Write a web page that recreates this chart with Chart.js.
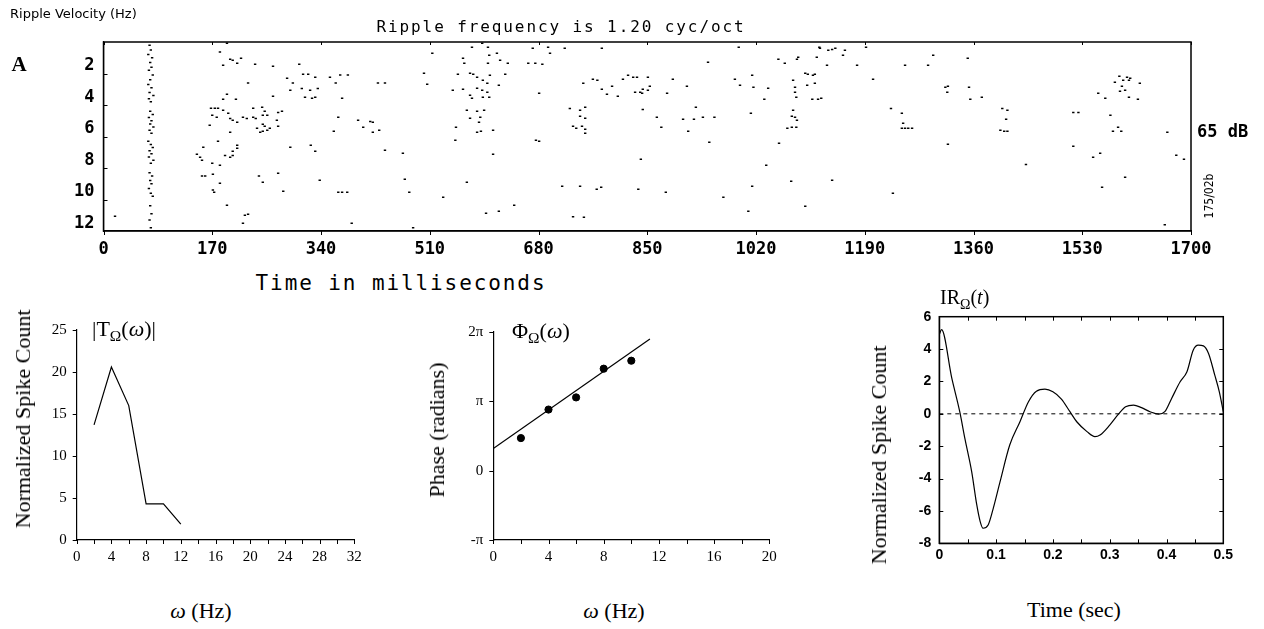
<!DOCTYPE html>
<html>
<head>
<meta charset="utf-8">
<script src="https://cdn.jsdelivr.net/npm/chart.js@4.4.1/dist/chart.umd.min.js"></script>
<style>
  body { margin: 0; background: #fff; }
  #page { position: relative; width: 1264px; height: 629px; overflow: hidden; background: #fff; }
  canvas { position: absolute; }
  .lbl { position: absolute; white-space: nowrap; color: #000; }
  .c { transform: translate(-50%, -50%); }
  .rot { transform: translate(-50%, -50%) rotate(-90deg); }
  .serif { font-family: "Liberation Serif", "DejaVu Serif", serif; }
  .mono { font-family: "DejaVu Sans Mono", "Liberation Mono", monospace; }
  sub { font-size: 0.7em; vertical-align: -0.35em; }
</style>
</head>
<body>
<div id="page">
  <canvas id="rasterChart" width="1264" height="270" style="left:0;top:0"></canvas>
  <canvas id="magChart" width="400" height="270" style="left:0;top:300px"></canvas>
  <canvas id="phaseChart" width="400" height="270" style="left:420px;top:300px"></canvas>
  <canvas id="irChart" width="424" height="300" style="left:840px;top:290px"></canvas>

  <div class="lbl" style="left:10px;top:6px;font:13px 'DejaVu Sans',sans-serif">Ripple Velocity (Hz)</div>
  <div class="lbl c mono" style="left:561px;top:26px;font-size:16px;letter-spacing:1.9px">Ripple frequency is 1.20 cyc/oct</div>
  <div class="lbl c serif" style="left:19px;top:64px;font-size:21px;font-weight:bold">A</div>
  <div class="lbl mono" style="left:1197px;top:121px;font-size:17px;font-weight:bold">65 dB</div>
  <div class="lbl rot" style="left:1209px;top:196px;font:12px 'DejaVu Sans Condensed','DejaVu Sans',sans-serif">175/02b</div>
  <div class="lbl c mono" style="left:401px;top:283px;font-size:21px;letter-spacing:1.9px">Time in milliseconds</div>

  <div class="lbl rot serif" style="left:23px;top:419px;font-size:22px">Normalized Spike Count</div>
  <div class="lbl serif" style="left:92px;top:316px;font-size:22px">|T<sub>Ω</sub>(<i>ω</i>)|</div>
  <div class="lbl c serif" style="left:201px;top:611px;font-size:22px"><i>ω</i> (Hz)</div>

  <div class="lbl rot serif" style="left:437px;top:430px;font-size:22px">Phase (radians)</div>
  <div class="lbl serif" style="left:512px;top:318px;font-size:22px">Φ<sub>Ω</sub>(<i>ω</i>)</div>
  <div class="lbl c serif" style="left:614px;top:611px;font-size:22px"><i>ω</i> (Hz)</div>

  <div class="lbl rot serif" style="left:879px;top:455px;font-size:22px">Normalized Spike Count</div>
  <div class="lbl serif" style="left:940px;top:286px;font-size:20px">IR<sub>Ω</sub>(<i>t</i>)</div>
  <div class="lbl c serif" style="left:1074px;top:610px;font-size:22px">Time (sec)</div>
</div>

<script>
// raster: [time in ms, ripple velocity row]
const onsetSpikes = [
  [72,0.7],[74,1.0],[70,1.3],[76,1.5],[73,1.8],[75,2.1],[71,2.3],[77,2.6],[73,2.9],[70,3.2],
  [75,3.4],[72,3.7],[78,3.9],[71,4.1],[74,4.3],[73,4.9],[77,5.1],[71,5.3],[75,5.5],[73,5.7],
  [78,5.9],[72,6.1],[75,6.3],[70,6.8],[74,7.0],[77,7.2],[72,7.4],[75,7.6],[71,7.8],[78,8.0],
  [74,8.2],[72,8.8],[76,9.0],[73,9.3],[75,9.5],[71,9.8],[74,10.1],[77,10.3],[73,10.9],[75,11.4],
  [72,11.8],[74,12.3]
];
const earlySpikes = [
  [18,11.57],[182,1.13],[187,1.98],[198,1.6],[202,1.66],[209,1.85],[215,1.53],[193,0.58],[237,1.92],[265,2.04],
  [306,1.92],[287,2.8],[296,3.1],[312,2.55],[320,2.55],[331,2.74],[354,2.74],[370,2.6],[382,2.6],[363,3.1],
  [292,3.57],[310,3.45],[323,3.57],[335,3.45],[315,4.0],[326,4.07],[331,4.0],[265,3.95],[373,4.07],[429,3.1],
  [440,3.1],[226,3.1],[193,3.82],[187,4.14],[207,4.14],[168,4.7],[174,4.7],[179,4.7],[170,5.15],[177,5.28],
  [187,4.84],[195,5.03],[198,5.35],[202,5.47],[209,5.6],[166,5.79],[218,5.28],[224,5.35],[234,4.7],[234,5.28],
  [238,5.35],[248,4.65],[252,4.9],[249,5.15],[256,5.15],[273,4.97],[279,4.9],[240,5.98],[245,6.23],[249,6.17],
  [256,6.1],[260,5.98],[249,5.73],[252,5.85],[271,5.47],[273,5.85],[198,6.23],[367,5.28],[360,6.17],[398,5.47],
  [406,5.92],[417,5.54],[421,5.6],[421,6.23],[431,6.1],[440,7.37],[468,7.57],[179,6.8],[209,7.06],[209,7.25],
  [202,7.44],[202,7.7],[198,7.82],[190,7.7],[156,7.18],[146,7.63],[151,7.82],[154,8.0],[170,8.2],[182,8.33],
  [292,7.18],[324,7.06],[331,7.44],[154,9.0],[159,9.0],[171,8.9],[243,9.0],[249,9.4],[273,8.84],[338,9.28],
  [182,9.47],[171,9.9],[173,10.04],[281,9.98],[367,10.04],[373,10.04],[381,10.04],[471,9.22],[478,10.04],[193,10.87],
  [221,11.5],[226,11.44],[218,12.0],[388,12.0],[484,12.3]
];
const middleSpikes = [
  [514,1.22],[501,2.49],[506,3.19],[531,10.36],[576,0.84],[592,0.58],[601,0.84],[603,1.34],[615,1.22],[601,1.85],
  [620,1.66],[632,1.85],[562,1.53],[564,1.85],[554,2.55],[573,2.49],[578,2.55],[584,2.74],[593,2.93],[600,3.12],
  [604,2.61],[618,3.25],[628,2.55],[546,3.57],[562,3.5],[573,3.88],[576,4.07],[584,3.44],[592,3.57],[593,4.01],
  [600,3.69],[603,4.01],[568,4.84],[573,5.34],[584,4.9],[589,5.28],[595,4.84],[587,5.6],[584,6.23],[590,6.17],
  [609,6.1],[551,5.92],[550,6.74],[609,7.63],[568,9.4],[598,11.37],[618,11.25],[642,10.87],[664,1.85],[675,1.85],
  [686,1.92],[671,0.9],[695,0.84],[698,1.22],[721,0.9],[779,0.9],[681,3.76],[676,6.74],[681,6.8],[750,3.12],
  [765,2.87],[772,2.93],[779,3.5],[787,3.82],[795,3.31],[804,3.95],[812,2.87],[820,2.61],[828,2.74],[834,2.74],
  [831,3.69],[839,3.69],[843,3.5],[851,2.74],[854,3.31],[851,3.57],[842,3.76],[881,3.76],[890,2.87],[912,3.31],
  [729,4.72],[745,4.84],[753,4.65],[745,5.22],[753,5.34],[734,5.85],[748,5.85],[753,6.04],[753,6.3],[739,5.98],
  [843,4.78],[865,5.28],[872,5.92],[906,5.41],[914,6.17],[923,5.41],[926,4.65],[937,5.28],[955,5.28],[947,6.87],
  [840,7.95],[717,9.66],[745,9.66],[771,9.85],[778,9.73],[836,9.85],[879,10.04],[734,11.6],[751,11.63],[945,1.79],
  [969,10.36]
];
const lateSpikes = [
  [993,0.84],[987,2.87],[995,3.25],[1014,2.61],[1016,3.38],[1039,3.44],[1033,4.14],[1012,5.03],[1036,8.33],[1056,6.93],
  [1055,1.6],[1065,1.85],[1084,1.6],[1086,1.47],[1014,9.66],[1008,11.25],[1075,9.34],[1097,10.93],[1078,2.93],[1081,3.38],
  [1081,3.69],[1083,4.01],[1078,4.84],[1076,5.22],[1081,5.28],[1084,5.47],[1069,5.98],[1076,5.92],[1083,5.92],[1097,2.49],
  [1101,2.55],[1109,2.61],[1100,3.25],[1108,4.14],[1117,4.14],[1119,0.84],[1115,1.47],[1120,0.9],[1131,1.98],[1133,1.03],
  [1139,0.97],[1144,0.9],[1156,1.34],[1159,1.03],[1178,1.98],[1192,0.84],[1112,2.55],[1112,3.12],[1122,4.07],[1203,2.87],
  [1253,1.98],[1289,1.98],[1297,1.34],[1231,4.72],[1248,5.03],[1250,5.66],[1248,5.98],[1253,5.98],[1258,5.98],[1264,5.98],
  [1316,3.38],[1319,3.69],[1320,3.31],[1351,1.53],[1353,3.38],[1355,4.14],[1373,4.01],[1320,6.99],[1405,4.72],[1413,4.84],
  [1411,5.41],[1402,6.1],[1408,6.17],[1413,6.17],[1442,8.27],[1139,9.28],[1234,10.1],[1516,4.97],[1524,4.97],[1516,7.12],
  [1555,3.76],[1566,4.07],[1574,5.15],[1547,7.82],[1558,7.57],[1561,9.73],[1597,9.09],[1581,3.06],[1588,2.68],[1594,2.93],
  [1600,2.74],[1605,2.8],[1603,2.93],[1592,3.31],[1589,3.63],[1597,3.57],[1603,4.01],[1620,3.12],[1617,4.14],[1578,6.17],
  [1586,5.92],[1591,6.17],[1663,6.23],[1677,7.69],[1689,7.95],[1659,12.1]
];
const rasterRowLabels = [2, 4, 6, 8, 10, 12];
const rasterRowMarks = [2.5, 4.5, 6.5, 8.5, 10.5];
const rasterTimeTicks = [0, 170, 340, 510, 680, 850, 1020, 1190, 1360, 1530, 1700];

// transfer function magnitude
const magFreq = [2, 4, 6, 8, 10, 12];
const magValue = [13.7, 20.6, 16.0, 4.3, 4.3, 1.9];

// transfer function phase (radians)
const phaseFreq = [2, 4, 6, 8, 10];
const phaseValue = [1.47, 2.76, 3.31, 4.61, 4.97];
const phaseFitFreq = [0, 11.35];
const phaseFitValue = [1.0, 5.95];
const phaseTicks = [-Math.PI, 0, Math.PI, 2 * Math.PI];
const phaseTickLabels = ["-π", "0", "π", "2π"];

// impulse response
const irTime = [0, 0.004, 0.022, 0.036, 0.045, 0.057, 0.066, 0.072, 0.077, 0.086, 0.095, 0.107, 0.124, 0.142,
  0.157, 0.171, 0.186, 0.2, 0.215, 0.23, 0.242, 0.26, 0.274, 0.283, 0.3, 0.315, 0.328, 0.342, 0.356,
  0.371, 0.386, 0.397, 0.409, 0.424, 0.436, 0.447, 0.456, 0.465, 0.474, 0.485, 0.493, 0.5];
const irValue = [4.9, 5.2, 2.2, 0.13, -1.52, -3.57, -5.63, -6.66, -7.07, -6.87, -5.84, -4.19, -1.93, -0.49,
  0.75, 1.4, 1.52, 1.36, 0.91, 0.13, -0.49, -1.1, -1.41, -1.31, -0.7, -0.04, 0.44, 0.54, 0.38,
  0.13, -0.02, 0.13, 0.95, 1.98, 2.6, 3.93, 4.24, 4.2, 3.73, 2.39, 1.36, 0.13];

const tickMarks = {
  id: "tickMarks",
  afterDraw(chart, args, opts) {
    const ctx = chart.ctx;
    const { left, right, top, bottom } = chart.chartArea;
    ctx.save();
    ctx.strokeStyle = "#000";
    ctx.lineWidth = 1;
    (opts.marks || []).forEach((m) => {
      const scale = chart.scales[m.axis];
      m.values.forEach((v) => {
        const p = Math.round(scale.getPixelForValue(v)) + 0.5;
        ctx.beginPath();
        if (m.axis === "x") {
          const y0 = m.side === "top" ? top : bottom;
          ctx.moveTo(p, y0);
          ctx.lineTo(p, y0 + m.len);
        } else {
          const x0 = m.side === "right" ? right : left;
          ctx.moveTo(x0, p);
          ctx.lineTo(x0 + m.len, p);
        }
        ctx.stroke();
      });
    });
    if (opts.box) {
      ctx.lineWidth = 1.5;
      ctx.strokeRect(left, top, right - left, bottom - top);
    }
    ctx.restore();
  },
};

function axisBase(extra) {
  return Object.assign(
    {
      type: "linear",
      grid: { display: false, drawTicks: false },
      border: { display: true, color: "#000", width: 1.2 },
    },
    extra
  );
}

function baseOptions(padding, scales, marks, box) {
  return {
    responsive: false,
    animation: false,
    layout: { padding },
    plugins: {
      legend: { display: false },
      tooltip: { enabled: false },
      tickMarks: { marks, box },
    },
    scales,
  };
}

function toPoints(xs, ys) {
  return xs.map((x, i) => ({ x, y: ys[i] }));
}

function pairsToPoints(pairs) {
  return pairs.map(([t, row]) => ({ x: t, y: row }));
}

function setupRaster() {
  const monoBold = { family: "'DejaVu Sans Mono', monospace", size: 17, weight: "bold" };
  const spikeData = [...onsetSpikes, ...earlySpikes, ...middleSpikes, ...lateSpikes];
  new Chart(document.getElementById("rasterChart"), {
    type: "scatter",
    data: {
      datasets: [
        {
          data: pairsToPoints(spikeData),
          pointStyle: "line",
          pointRadius: 1.2,
          borderColor: "#000",
          borderWidth: 1.5,
          backgroundColor: "#000",
        },
      ],
    },
    options: baseOptions(
      { left: 0, right: 73, top: 42, bottom: 0 },
      {
        x: axisBase({
          min: 0,
          max: 1700,
          afterBuildTicks: (s) => { s.ticks = rasterTimeTicks.map((v) => ({ value: v })); },
          afterFit: (s) => { s.height = 39; },
          ticks: {
            color: "#000",
            font: monoBold,
            padding: 8,
            maxRotation: 0,
            autoSkip: false,
            callback: (v) => String(v),
          },
        }),
        y: axisBase({
          min: 0.5,
          max: 12.5,
          reverse: true,
          afterBuildTicks: (s) => { s.ticks = rasterRowLabels.map((v) => ({ value: v })); },
          afterFit: (s) => { s.width = 103.5; },
          ticks: { color: "#000", font: monoBold, padding: 9 },
        }),
      },
      [
        { axis: "y", values: rasterRowMarks, side: "left", len: 4 },
        { axis: "x", values: rasterTimeTicks, side: "bottom", len: 4 },
        { axis: "x", values: rasterTimeTicks, side: "top", len: 3 },
      ],
      true
    ),
    plugins: [tickMarks],
  });
}

function setupMagnitude() {
  const serif = { family: "'Liberation Serif', serif", size: 15 };
  new Chart(document.getElementById("magChart"), {
    type: "line",
    data: {
      datasets: [
        {
          data: toPoints(magFreq, magValue),
          borderColor: "#000",
          borderWidth: 1.2,
          pointRadius: 0,
          tension: 0,
        },
      ],
    },
    options: baseOptions(
      { left: 0, right: 45.7, top: 30, bottom: 0 },
      {
        x: axisBase({
          min: 0,
          max: 32,
          ticks: { stepSize: 4, color: "#000", font: serif, padding: 8, maxRotation: 0, autoSkip: false },
          afterFit: (s) => { s.height = 30; },
        }),
        y: axisBase({
          min: 0,
          max: 25,
          ticks: { stepSize: 5, color: "#000", font: serif, padding: 10 },
          afterFit: (s) => { s.width = 76.7; },
        }),
      },
      [
        { axis: "y", values: [0, 5, 10, 15, 20, 25], side: "left", len: -4 },
        { axis: "x", values: [0, 2, 4, 6, 8, 10, 12, 14, 16, 18, 20, 22, 24, 26, 28, 30, 32], side: "bottom", len: 4 },
      ],
      false
    ),
    plugins: [tickMarks],
  });
}

function setupPhase() {
  const serif = { family: "'Liberation Serif', serif", size: 15 };
  new Chart(document.getElementById("phaseChart"), {
    type: "scatter",
    data: {
      datasets: [
        {
          data: toPoints(phaseFreq, phaseValue),
          pointRadius: 3.6,
          pointBackgroundColor: "#000",
          pointBorderColor: "#000",
        },
        {
          type: "line",
          data: toPoints(phaseFitFreq, phaseFitValue),
          borderColor: "#000",
          borderWidth: 1.2,
          pointRadius: 0,
        },
      ],
    },
    options: baseOptions(
      { left: 0, right: 50.7, top: 31.7, bottom: 0 },
      {
        x: axisBase({
          min: 0,
          max: 20,
          ticks: { stepSize: 4, color: "#000", font: serif, padding: 8, maxRotation: 0, autoSkip: false },
          afterFit: (s) => { s.height = 30; },
        }),
        y: axisBase({
          min: -Math.PI,
          max: 2 * Math.PI,
          afterBuildTicks: (s) => { s.ticks = phaseTicks.map((v) => ({ value: v })); },
          ticks: {
            color: "#000",
            font: serif,
            padding: 10,
            callback: (v, i) => phaseTickLabels[i],
          },
          afterFit: (s) => { s.width = 73.3; },
        }),
      },
      [
        { axis: "y", values: phaseTicks, side: "left", len: -4 },
        { axis: "x", values: [0, 2, 4, 6, 8, 10, 12, 14, 16, 18, 20], side: "bottom", len: 4 },
      ],
      false
    ),
    plugins: [tickMarks],
  });
}

function setupImpulse() {
  const sans = { family: "'Liberation Sans', Arial, sans-serif", size: 14, weight: "bold" };
  new Chart(document.getElementById("irChart"), {
    type: "line",
    data: {
      datasets: [
        {
          data: toPoints(irTime, irValue),
          borderColor: "#000",
          borderWidth: 1.2,
          pointRadius: 0,
          tension: 0.4,
          cubicInterpolationMode: "monotone",
        },
        {
          data: toPoints([0, 0.5], [0, 0]),
          borderColor: "#000",
          borderWidth: 1,
          borderDash: [4, 4],
          pointRadius: 0,
        },
      ],
    },
    options: baseOptions(
      { left: 0, right: 40.7, top: 26.7, bottom: 0 },
      {
        x: axisBase({
          min: 0,
          max: 0.5,
          ticks: {
            stepSize: 0.1,
            color: "#000",
            font: sans,
            padding: 3,
            maxRotation: 0,
            autoSkip: false,
            callback: (v) => (v === 0 ? "0" : v.toFixed(1)),
          },
          afterFit: (s) => { s.height = 46.7; },
        }),
        y: axisBase({
          min: -8,
          max: 6,
          ticks: { stepSize: 2, color: "#000", font: sans, padding: 8 },
          afterFit: (s) => { s.width = 99.3; },
        }),
      },
      [
        { axis: "x", values: [0.05, 0.1, 0.15, 0.2, 0.25, 0.3, 0.35, 0.4, 0.45], side: "bottom", len: -4 },
        { axis: "x", values: [0.05, 0.1, 0.15, 0.2, 0.25, 0.3, 0.35, 0.4, 0.45], side: "top", len: 4 },
        { axis: "y", values: [-6, -4, -2, 0, 2, 4], side: "left", len: 4 },
        { axis: "y", values: [-6, -4, -2, 0, 2, 4], side: "right", len: -4 },
      ],
      true
    ),
    plugins: [tickMarks],
  });
}

setupRaster();
setupMagnitude();
setupPhase();
setupImpulse();
</script>
</body>
</html>
